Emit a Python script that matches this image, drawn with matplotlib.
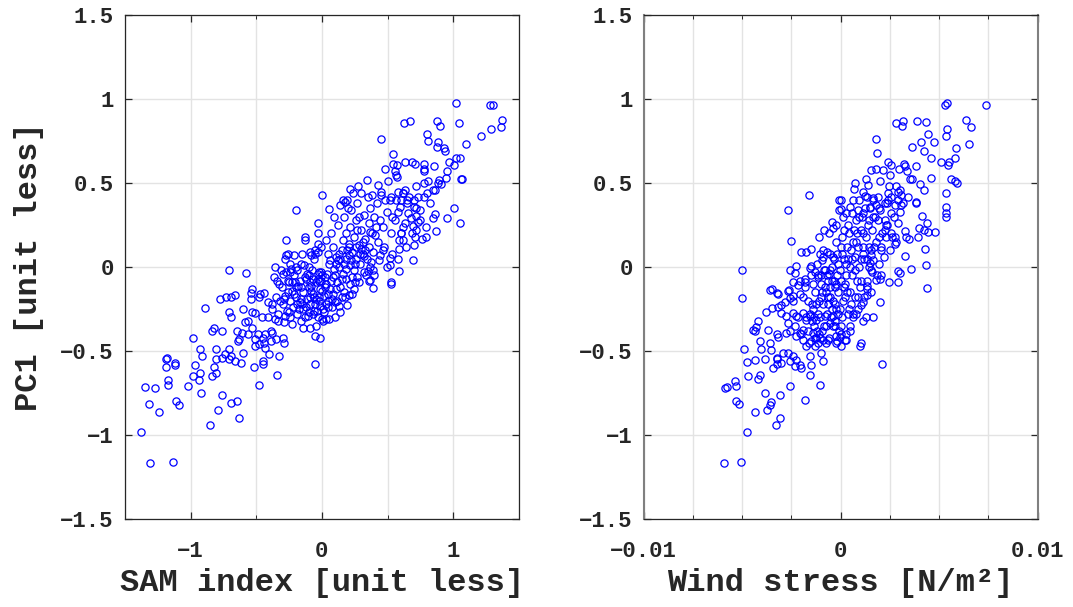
import numpy as np
import matplotlib
matplotlib.use("Agg")
import matplotlib.pyplot as plt
from matplotlib.ticker import FixedLocator, FuncFormatter

# ---------------- data: left panel (SAM index vs PC1) ----------------
sam_x = [
    0.0, -0.2, -0.27, -0.13, -0.13, -0.03, -0.03, -0.03, -0.26, -0.27,
    -0.21, -0.15, -0.09, -0.08, -0.05, -0.03, -0.28, -0.24, -0.2, -0.14,
    -0.10, -0.36, -0.31, -0.27, -0.24, -0.71, -0.58, -0.53, -0.34, -0.25,
    -0.20, -0.1, -0.07, -0.03, -0.01, -0.02, -0.89, -0.78, -0.73, -0.69,
    -0.66, -0.71, -0.69, -0.54, -0.54, -0.47, -0.44, -0.48, -0.38, -0.41,
    -0.6, -0.535, -0.51, -0.46, -0.41, -0.36, -0.84, -0.82, -0.76, -0.98,
    -0.65, -0.61, -0.585, -0.56, -0.535, -0.56, -0.64, -0.635, -0.49, -0.45,
    -0.43, -0.39, -0.38, -0.51, -0.48, -0.44, -0.39, -0.35, -0.30, -0.29,
    -0.93, -0.91, -0.81, -0.71, -0.74, -0.71, -0.66, -0.62, -0.6, -0.69,
    -0.76, -1.19, -1.18, -1.19, -1.12, -1.12, -0.97, -0.93, -0.98, -0.94,
    -0.84, -0.81, -0.82, -0.81, -1.17, -1.17, -1.35, -1.275, -1.02, -0.92,
    -0.76, -0.69, -0.645, -0.79, -0.63, -0.855, -1.32, -1.24, -1.11, -1.09,
    -1.38, -1.31, -1.135, -0.48, -0.345, -0.33, -0.45, -0.45, -0.52, -0.40,
    -0.51, -0.43, -0.05, -0.05, -0.015, -0.09, 0.10, 0.035, 0.0, 0.195,
    0.21, 0.23, 0.39, 0.525, 0.36, 0.25, 1.02, 1.28, 1.30, 0.626,
    0.67, 0.88, 0.90, 1.045, 1.37, 1.365, 1.285, 1.21, 1.10, 0.80,
    0.81, 0.885, 0.88, 0.93, 0.935, 0.454, 0.54, 1.02, 1.055, 1.01,
    0.966, 0.955, 0.948, 1.06, 1.065, 0.855, 0.776, 0.776, 0.776, 0.636,
    0.69, 0.707, 0.54, 0.575, 0.484, 0.555, 0.568, 0.575, 0.89, 0.885,
    0.91, 0.86, 0.81, 0.78, 0.72, 0.63, 0.58, 0.505, 0.43, 0.34,
    0.276, 0.213, 0.056, 0.16, 0.175, 0.2, 1.01, 1.055, 0.95, 0.87,
    0.85, 0.86, 0.79, 0.72, 0.71, 0.76, 0.795, 0.695, 0.73, 0.72,
    0.68, 0.63, 0.605, 0.62, 0.59, 0.695, 0.59, 0.525, 0.517, 0.517,
    0.446, 0.39, 0.40, 0.365, 0.35, 0.32, 0.3, 0.38, 0.45, 0.52,
    0.6, 0.66, 0.73, 0.8, 0.85, 0.65, 0.7, 0.75, 0.58, 0.62,
    -0.38, -0.352, -0.334, -0.306, -0.297, -0.291, -0.283, -0.264, -0.258, -0.246,
    -0.243, -0.226, -0.218, -0.214, -0.197, -0.186, -0.183, -0.168, -0.158, -0.147,
    -0.142, -0.128, -0.116, -0.107, -0.098, -0.094, -0.078, -0.066, -0.061, -0.048,
    -0.044, -0.027, -0.018, -0.012, 0.004, 0.013, 0.018, 0.034, 0.043, 0.052,
    0.058, 0.074, 0.083, 0.087, 0.104, 0.112, 0.118, 0.133, 0.137, 0.154,
    0.157, 0.172, 0.183, 0.186, 0.204, 0.213, 0.217, 0.232, 0.243, 0.247,
    0.262, 0.268, 0.284, 0.293, 0.297, 0.314, 0.322, 0.327, 0.343, 0.356,
    0.362, 0.368, 0.384, 0.393, 0.397, 0.424, 0.436, 0.462, 0.473, 0.497,
    0.523, 0.537, 0.558, 0.584, 0.596, 0.617, 0.643, 0.657, 0.684, 0.702,
    -0.364, -0.337, -0.322, -0.296, -0.284, -0.262, -0.236, -0.224, -0.203, -0.176,
    -0.157, -0.144, -0.122, -0.096, -0.083, -0.057, -0.044, -0.023, 0.006, 0.024,
    0.043, 0.057, 0.084, 0.096, 0.123, 0.137, 0.163, 0.176, 0.204, 0.216,
    0.243, 0.257, 0.284, 0.296, 0.323, 0.337, 0.364, 0.376, 0.403, 0.417,
    0.443, 0.462, 0.484, 0.497, 0.523, 0.536, 0.562, 0.577, 0.604, 0.616,
    0.07, 0.12, 0.17, 0.22, 0.27, 0.03, -0.01, -0.05, 0.09, 0.19,
    0.14, 0.24, 0.35, 0.45, 0.65, 0.72, 0.75, 0.70, 0.78, 0.82,
    -0.19, -0.15, -0.11, -0.07, -0.03, 0.01, 0.05, 0.09, 0.13, 0.17,
    -0.25, -0.21, -0.17, -0.13, -0.09, -0.05, -0.01, 0.03, 0.07, 0.11,
    0.15, 0.19, 0.23, 0.27, 0.31, 0.13, 0.06, -0.02, -0.09, -0.16,
    -0.33, -0.29, -0.23, -0.19, -0.16, -0.12, -0.08, -0.04, 0.0, 0.04,
    0.08, 0.11, 0.15, 0.18, 0.22, 0.26, 0.29, 0.33, 0.37, 0.41,
    -0.06, -0.02, 0.02, 0.05, 0.10, 0.14, 0.18, 0.21, 0.25, 0.28,
]
sam_pc1 = [
    0.43, 0.34, 0.16, 0.18, 0.16, 0.26, 0.20, 0.14, 0.08, 0.07,
    0.07, 0.08, 0.09, 0.07, 0.08, 0.09, 0.05, 0.02, 0.0, 0.01,
    0.0, 0.0, -0.02, -0.03, -0.03, -0.02, -0.035, -0.13, -0.085, -0.09,
    -0.12, -0.05, -0.07, -0.04, -0.03, -0.08, -0.245, -0.19, -0.18, -0.18,
    -0.165, -0.27, -0.295, -0.155, -0.19, -0.16, -0.155, -0.18, -0.22, -0.21,
    -0.25, -0.265, -0.275, -0.30, -0.295, -0.31, -0.38, -0.36, -0.38, -0.42,
    -0.38, -0.39, -0.33, -0.32, -0.36, -0.40, -0.44, -0.43, -0.40, -0.42,
    -0.40, -0.38, -0.39, -0.43, -0.46, -0.45, -0.44, -0.43, -0.42, -0.45,
    -0.49, -0.53, -0.49, -0.49, -0.52, -0.55, -0.56, -0.57, -0.51, -0.53,
    -0.54, -0.55, -0.54, -0.595, -0.57, -0.585, -0.585, -0.63, -0.65, -0.67,
    -0.65, -0.63, -0.595, -0.55, -0.675, -0.70, -0.715, -0.72, -0.71, -0.75,
    -0.76, -0.81, -0.795, -0.85, -0.90, -0.94, -0.815, -0.86, -0.795, -0.82,
    -0.98, -1.165, -1.16, -0.70, -0.645, -0.53, -0.56, -0.58, -0.595, -0.52,
    -0.47, -0.48, -0.58, -0.41, -0.42, -0.36, -0.30, -0.31, -0.31, -0.225,
    -0.165, -0.16, -0.125, -0.10, -0.08, -0.09, 0.976, 0.966, 0.966, 0.857,
    0.867, 0.867, 0.84, 0.86, 0.873, 0.833, 0.82, 0.78, 0.73, 0.79,
    0.75, 0.745, 0.715, 0.71, 0.69, 0.764, 0.676, 0.652, 0.648, 0.61,
    0.623, 0.57, 0.53, 0.524, 0.524, 0.60, 0.615, 0.585, 0.573, 0.628,
    0.625, 0.615, 0.613, 0.61, 0.583, 0.57, 0.55, 0.536, 0.52, 0.50,
    0.495, 0.46, 0.51, 0.50, 0.48, 0.46, 0.45, 0.51, 0.49, 0.52,
    0.48, 0.464, 0.345, 0.40, 0.39, 0.35, 0.35, 0.265, 0.295, 0.216,
    0.29, 0.317, 0.24, 0.22, 0.18, 0.17, 0.18, 0.245, 0.27, 0.305,
    0.29, 0.26, 0.20, 0.16, 0.107, 0.04, -0.026, -0.09, 0.053, 0.014,
    0.073, -0.016, -0.046, -0.076, -0.026, 0.063, 0.44, 0.43, 0.45, 0.40,
    0.40, 0.42, 0.42, 0.44, 0.46, 0.38, 0.36, 0.34, 0.33, 0.44,
    -0.25, -0.18, -0.28, -0.12, -0.22, -0.33, -0.17, -0.26, -0.08, -0.20,
    -0.30, -0.14, -0.24, -0.05, -0.18, -0.28, -0.11, -0.21, -0.32, -0.15,
    -0.25, -0.06, -0.19, -0.29, -0.12, -0.22, -0.02, -0.16, -0.26, -0.09,
    -0.19, -0.30, -0.13, -0.23, -0.05, -0.17, -0.27, -0.10, -0.20, 0.02,
    -0.13, -0.24, -0.06, -0.16, 0.06, -0.09, -0.20, 0.00, -0.12, 0.10,
    -0.04, -0.15, 0.05, -0.07, 0.14, 0.01, -0.10, 0.09, -0.02, 0.18,
    0.05, -0.06, 0.13, 0.02, 0.22, 0.08, -0.03, 0.17, 0.05, 0.26,
    0.12, 0.00, 0.20, 0.09, 0.30, 0.15, 0.04, 0.24, 0.12, 0.33,
    0.20, 0.08, 0.28, 0.16, 0.36, 0.24, 0.12, 0.32, 0.20, 0.40,
    -0.06, -0.32, -0.20, -0.04, -0.29, -0.15, -0.01, -0.34, -0.09, -0.25,
    0.02, -0.36, -0.07, -0.27, -0.14, 0.05, -0.35, -0.03, -0.25, -0.12,
    0.08, -0.31, 0.12, -0.21, 0.04, -0.27, 0.16, -0.18, 0.07, 0.24,
    -0.13, 0.28, -0.09, 0.11, 0.31, -0.05, 0.35, 0.03, 0.19, 0.38,
    0.28, 0.10, 0.40, 0.00, 0.42, 0.30, 0.40, 0.05, 0.20, 0.44,
    0.20, 0.25, 0.30, 0.34, 0.38, 0.16, 0.12, 0.10, 0.30, 0.40,
    0.37, 0.44, 0.42, 0.43, 0.40, 0.35, 0.28, 0.13, 0.42, 0.38,
    -0.02, -0.22, -0.04, -0.28, -0.07, -0.32, -0.16, -0.01, -0.23, 0.02,
    -0.27, -0.16, -0.08, -0.30, -0.18, -0.22, -0.08, -0.22, -0.08, 0.02,
    -0.18, 0.10, -0.06, 0.22, 0.15, 0.08, 0.04, -0.18, -0.09, -0.19,
    -0.10, -0.19, -0.09, -0.22, -0.12, -0.24, -0.11, -0.26, -0.14, -0.04,
    -0.19, -0.13, -0.07, -0.01, 0.04, 0.12, 0.08, 0.10, 0.21, 0.24,
    -0.18, -0.20, -0.06, -0.24, -0.05, 0.05, 0.20, 0.12, 0.02, 0.30,
]

# ---------------- data: right panel (wind stress vs PC1) ----------------
# wind stress in units of 1e-3 N/m^2
wind_milli = [
    -1.62, -2.69, -2.52, -2.0, -1.74, -1.52, -1.12, -0.86, -0.61, -0.44,
    -0.39, -0.22, -0.1, -0.1, -1.05, -0.9, -0.7, -0.55, -0.4, -0.95,
    -2.25, -2.59, -2.34, -2.42, -2.17, -1.83, -1.57, -1.49, -5.0, -3.51,
    -2.62, -1.3, -1.15, -1.0, -0.8, -0.6, -0.45, -0.25, -5.0, -3.57,
    -3.26, -3.18, -2.67, -2.08, -1.83, -3.77, -3.47, -3.18, -3.01, -2.84,
    -2.59, -2.42, -4.2, -4.28, -4.45, -4.37, -3.69, -3.26, -3.18, -2.76,
    -2.59, -4.11, -4.03, -3.6, -3.52, -3.26, -3.43, -3.26, -3.86, -4.33,
    -4.76, -4.92, -4.7, -4.2, -4.11, -5.89, -5.75, -5.38, -5.33, -5.33,
    -5.16, -4.37, -3.82, -3.52, -3.57, -3.72, -3.06, -3.31, -3.06, -4.77,
    -5.92, -5.08, -2.55, -1.79, -1.07, -2.93, -2.68, -2.42, -2.25, -2.08,
    -2.0, -1.57, -1.49, -1.57, -0.98, -0.9, -2.34, -2.59, -3.01, -3.26,
    -3.01, -2.76, -2.42, -2.25, -1.91, -1.74, -1.57, -1.23, -0.81, -2.68,
    -2.34, -2.08, -1.91, -1.41, -1.23, -0.9, -0.64, -0.22, -2.25, -1.91,
    -1.49, -1.15, -1.74, -1.32, -0.56, -0.39, -0.22, 5.28, 5.4, 7.4,
    2.83, 3.16, 3.13, 3.89, 4.31, 6.35, 6.63, 6.51, 5.4, 5.37,
    4.43, 4.72, 4.06, 4.23, 3.64, 4.6, 5.84, 5.8, 5.5, 5.45,
    5.11, 1.78, 1.86, 3.84, 4.6, 5.62, 5.79, 5.9, 5.33, 5.37,
    5.37, 5.37, 3.2, 3.25, 2.96, 3.37, 3.5, 3.64, 4.01, 4.23,
    3.42, 3.81, 3.83, 2.4, 2.57, 2.52, 2.15, 1.81, 1.56, 1.98,
    1.3, 1.39, 0.71, 0.66, 1.13, 1.22, 1.64, 0.03, 0.0, 2.45,
    2.83, 3.0, 3.08, 2.91, 2.74, 3.08, 2.4, 2.23, 1.98, 1.81,
    1.47, 1.13, 0.88, 0.46, 0.29, 4.15, 4.38, 3.98, 4.21, 4.43,
    4.8, 3.92, 3.25, 3.34, 3.47, 2.74, 2.83, 2.57, 2.91, 2.32,
    2.23, 4.26, 3.25, 4.31, 3.55, 2.91, 3.0, 2.45, 2.91, 2.07,
    1.56, 1.64, 1.47, 1.56, 1.81, 1.98, 1.34, 4.4, 1.98, 1.64,
    1.27, 1.13, 1.35, 1.34, 1.13, 1.05, 2.12, 1.05, 1.0, 0.2,
    0.29, -0.05, -0.19, 0.03, -0.3, 0.03, 0.6, 0.8, 0.4, 0.9,
    -2.03, -1.78, -1.62, -1.47, -1.38, -1.31, -1.17, -1.08, -0.98, -0.92,
    -0.83, -0.68, -0.62, -0.48, -0.42, -0.27, -0.22, -0.08, 0.03, 0.12,
    0.18, 0.33, 0.37, 0.52, 0.58, 0.73, 0.77, 0.92, 0.98, 1.13,
    1.17, 1.32, 1.38, 1.52, 1.58, 1.72, 1.78, 1.93, 1.97, 2.12,
    2.18, 2.33, 2.37, 2.52, 2.58, 2.73, 2.77, 2.92, 3.03, 3.18,
    -1.93, -1.68, -1.52, -1.33, -1.12, -0.87, -0.72, -0.52, -0.28, -0.13,
    0.08, 0.28, 0.53, 0.72, 0.88, 1.12, 1.28, 1.53, 1.68, 1.92,
    2.07, 2.28, 2.53, 0.02, -0.18, 0.42, 0.78, 1.22, 1.62, 0.58,
    -0.58, -1.03, -1.42, -0.38, 0.22, 0.62, 1.03, 0.17, -0.78, -0.03,
    -0.32, 0.48, 1.42, -2.18, -2.42, -2.07, -1.22, -0.88, 0.13, 0.93,
    -1.82, -1.58, -1.43, -1.18, -1.02, -0.77, -0.63, -0.38, -0.17, 0.02,
    0.23, 0.38, 0.63, 0.82, 1.02, 1.18, 1.43, 1.57, 1.83, 2.03,
    2.23, 2.38, 2.62, -0.12, 0.33, 0.68, 1.08, 1.48, -0.52, -1.13,
    0.07, -0.73, 0.47, -0.28, 0.87, -1.48, 1.33, 0.28, -0.93, 1.88,
    -1.25, -0.95, -0.65, -0.35, -0.05, 0.25, 0.55, 0.85, 1.15, 1.45,
    -0.75, -0.45, -0.15, 0.15, 0.45, 0.75, 1.05, 1.35, 1.65, 1.95,
    -1.65, -1.35, -1.05, -0.25, 0.35, 0.65, 0.95, -0.55, 0.05, 0.45,
]
wind_pc1 = [
    0.43, 0.34, 0.157, 0.087, 0.089, 0.107, 0.18, 0.22, 0.2, 0.27,
    0.23, 0.25, 0.40, 0.34, 0.08, 0.06, 0.09, 0.075, 0.06, 0.04,
    0.004, -0.02, -0.036, -0.086, -0.105, -0.071, -0.006, 0.008, -0.02, -0.131,
    -0.135, -0.03, -0.06, -0.05, -0.02, -0.04, -0.08, -0.1, -0.185, -0.135,
    -0.155, -0.16, -0.145, -0.16, -0.086, -0.27, -0.245, -0.235, -0.225, -0.205,
    -0.185, -0.175, -0.32, -0.355, -0.373, -0.383, -0.377, -0.40, -0.417, -0.393,
    -0.383, -0.443, -0.486, -0.452, -0.492, -0.542, -0.60, -0.55, -0.546, -0.556,
    -0.568, -0.486, -0.65, -0.667, -0.645, -0.72, -0.715, -0.677, -0.707, -0.796,
    -0.815, -0.86, -0.75, -0.806, -0.82, -0.85, -0.76, -0.94, -0.90, -0.98,
    -1.165, -1.16, -0.71, -0.794, -0.70, -0.512, -0.512, -0.532, -0.552, -0.582,
    -0.60, -0.532, -0.582, -0.641, -0.512, -0.562, -0.592, -0.562, -0.571, -0.58,
    -0.274, -0.294, -0.274, -0.294, -0.274, -0.314, -0.294, -0.314, -0.294, -0.333,
    -0.353, -0.393, -0.373, -0.393, -0.423, -0.433, -0.433, -0.452, -0.413, -0.433,
    -0.443, -0.452, -0.472, -0.472, -0.333, -0.294, -0.413, 0.966, 0.976, 0.966,
    0.857, 0.867, 0.84, 0.867, 0.863, 0.873, 0.837, 0.732, 0.823, 0.78,
    0.79, 0.747, 0.742, 0.694, 0.714, 0.649, 0.708, 0.649, 0.623, 0.609,
    0.623, 0.764, 0.678, 0.60, 0.533, 0.524, 0.51, 0.50, 0.44, 0.357,
    0.325, 0.298, 0.615, 0.603, 0.585, 0.575, 0.524, 0.524, 0.496, 0.46,
    0.42, 0.385, 0.383, 0.628, 0.609, 0.55, 0.579, 0.583, 0.579, 0.51,
    0.524, 0.49, 0.50, 0.464, 0.45, 0.424, 0.41, 0.40, 0.345, 0.48,
    0.48, 0.46, 0.43, 0.40, 0.37, 0.37, 0.44, 0.38, 0.34, 0.37,
    0.36, 0.32, 0.34, 0.36, 0.32, 0.305, 0.265, 0.232, 0.222, 0.206,
    0.206, 0.182, 0.212, 0.182, 0.167, 0.182, 0.152, 0.202, 0.262, 0.252,
    0.222, 0.107, 0.063, 0.014, -0.01, -0.026, -0.036, -0.086, -0.09, 0.119,
    0.073, 0.043, 0.024, -0.016, -0.076, -0.071, -0.115, -0.125, -0.21, -0.30,
    -0.30, -0.32, -0.13, -0.165, -0.205, -0.225, -0.58, -0.452, -0.472, -0.433,
    -0.437, -0.417, -0.443, -0.472, -0.353, -0.353, -0.3, -0.28, -0.25, -0.18,
    -0.40, -0.30, -0.45, -0.22, -0.35, -0.15, -0.28, -0.40, -0.10, -0.22,
    -0.35, -0.05, -0.18, -0.30, 0.00, -0.12, -0.25, -0.38, -0.08, -0.20,
    0.05, -0.15, -0.28, 0.10, -0.05, -0.18, 0.15, 0.00, -0.12, 0.20,
    0.05, -0.08, 0.25, 0.10, -0.03, 0.30, 0.15, 0.02, 0.35, 0.20,
    0.06, 0.38, 0.25, 0.10, 0.42, 0.30, 0.14, 0.45, 0.33, 0.38,
    -0.18, -0.38, -0.05, -0.42, -0.20, -0.02, -0.28, -0.12, -0.32, -0.15,
    -0.30, 0.02, -0.22, 0.06, -0.25, 0.08, 0.18, -0.15, 0.12, 0.28,
    -0.05, 0.18, 0.32, 0.12, 0.08, 0.20, 0.28, 0.35, 0.40, 0.32,
    -0.42, -0.30, -0.25, -0.20, -0.10, 0.15, 0.22, 0.22, -0.12, -0.25,
    0.05, -0.35, 0.00, -0.30, -0.20, -0.08, 0.02, 0.10, 0.30, 0.40,
    -0.12, -0.28, -0.10, -0.38, -0.18, -0.45, -0.08, -0.35, -0.05, -0.40,
    -0.18, 0.05, -0.28, -0.08, 0.05, -0.18, 0.12, 0.22, -0.05, 0.10,
    0.28, 0.40, 0.18, 0.02, 0.12, 0.22, 0.30, 0.35, -0.02, -0.05,
    0.08, -0.15, 0.00, -0.22, 0.12, -0.32, 0.42, -0.40, -0.38, 0.42,
    -0.22, -0.15, -0.22, -0.08, -0.02, -0.05, 0.05, 0.20, 0.12, 0.28,
    -0.35, -0.25, -0.28, -0.12, -0.15, -0.02, -0.08, 0.05, 0.30, 0.18,
    -0.20, -0.30, -0.42, 0.15, 0.25, 0.40, 0.30, -0.18, 0.18, -0.38,
]

y_ticks = [-1.5, -1, -0.5, 0, 0.5, 1, 1.5]
sam_ticks = [-1, 0, 1]
wind_ticks = [-0.01, 0, 0.01]
sam_minor = [-1.5, -0.5, 0.5, 1.5]
wind_minor = [-0.0075, -0.005, -0.0025, 0.0025, 0.005, 0.0075]

# ---------------- style ----------------
plt.rcParams['font.family'] = ['Liberation Mono', 'DejaVu Sans Mono']
plt.rcParams['font.weight'] = 'bold'
plt.rcParams['axes.unicode_minus'] = True

fig = plt.figure(figsize=(10.73, 6.07), dpi=100)
ax1 = fig.add_axes([0.1165, 0.145, 0.367, 0.830])
ax2 = fig.add_axes([0.600, 0.145, 0.367, 0.830])

def fmt(v, pos):
    s = '%g' % v
    if s == '-0':
        s = '0'
    return s.replace('-', '\u2212')

grid_col = '#e3e3e3'
axis_col = '#262626'

for ax, xdat, ydat, xt, xm, xl in [
    (ax1, np.array(sam_x), np.array(sam_pc1), sam_ticks, sam_minor, (-1.5, 1.5)),
    (ax2, np.array(wind_milli) * 1e-3, np.array(wind_pc1), wind_ticks, wind_minor, (-0.01, 0.01)),
]:
    ax.plot(xdat, ydat, 'o', mfc='none', mec='#0000ff', ms=5.2, mew=0.9, zorder=3)
    ax.set_xlim(*xl)
    ax.set_ylim(-1.5, 1.5)
    ax.xaxis.set_major_locator(FixedLocator(xt))
    ax.xaxis.set_minor_locator(FixedLocator(xm))
    ax.yaxis.set_major_locator(FixedLocator(y_ticks))
    ax.xaxis.set_major_formatter(FuncFormatter(fmt))
    ax.yaxis.set_major_formatter(FuncFormatter(fmt))
    ax.grid(True, which='major', color=grid_col, lw=1.0, zorder=0)
    ax.grid(True, which='minor', axis='x', color=grid_col, lw=1.0, zorder=0)
    ax.set_axisbelow(True)
    ax.tick_params(which='major', direction='in', length=5, width=0.9,
                   top=True, right=True, labelsize=16, colors=axis_col)
    ax.tick_params(axis='y', which='major', pad=8)
    ax.tick_params(axis='x', which='major', pad=16)
    ax.tick_params(which='minor', direction='in', length=3, width=0.7,
                   top=True, right=False, colors=axis_col)
    for sp in ax.spines.values():
        sp.set_color(axis_col)
        sp.set_linewidth(0.9)
    for lab in ax.get_xticklabels() + ax.get_yticklabels():
        lab.set_fontweight('bold')

ax2.spines['left'].set_color('#808080')
ax2.spines['right'].set_color('#808080')
ax2.spines['left'].set_linewidth(1.5)
ax2.spines['right'].set_linewidth(1.5)

ax1.set_xlabel('SAM index [unit less]', fontsize=23, fontweight='bold', color=axis_col, labelpad=4)
ax1.set_ylabel('PC1 [unit less]', fontsize=23, fontweight='bold', color=axis_col, labelpad=12)
ax2.set_xlabel('Wind stress [N/m\u00b2]', fontsize=23, fontweight='bold', color=axis_col, labelpad=4)

fig.savefig('out.png', dpi=100)
